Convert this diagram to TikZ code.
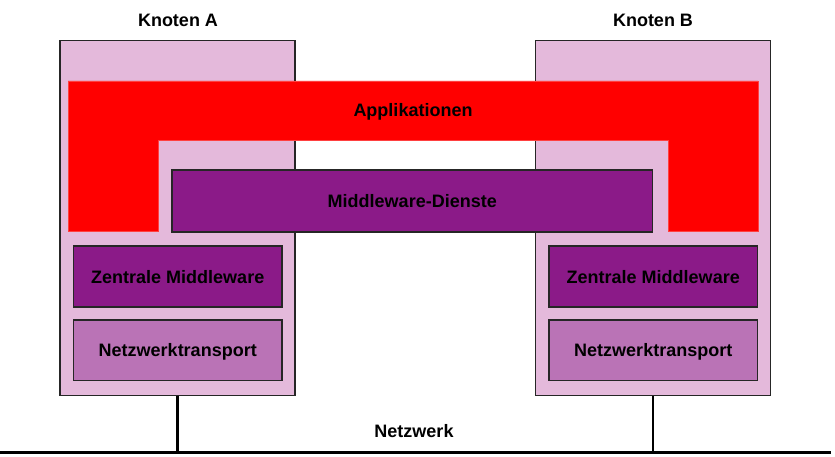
\documentclass[tikz,border=0pt]{standalone}
\usepackage{fontspec}
\setmainfont{Liberation Sans}
\usetikzlibrary{positioning}
\definecolor{knotenpink}{HTML}{E4B9DB}
\definecolor{mwpurple}{HTML}{8B1A88}
\definecolor{ntmauve}{HTML}{BA73B6}
\begin{document}
\begin{tikzpicture}[x=1pt,y=-1pt,font=\fontsize{18}{21}\selectfont\bfseries,node distance=13pt,text depth=0pt,
    box/.style={draw=black!85,line width=1.4pt,inner sep=0pt,outer sep=0pt}]
  \useasboundingbox (0,0) rectangle (835,457);
  \tikzset{knoten/.style={box,fill=knotenpink,anchor=north west,minimum width=235pt,minimum height=355pt},
           zentral/.style={box,fill=mwpurple,minimum width=208.5pt,minimum height=61pt},
           transport/.style={box,fill=ntmauve,minimum width=208.5pt,minimum height=60.5pt}}

  \node[knoten]  (knA) at (60,40.5)  {};
  \node[knoten]  (knB) at (535.5,40.5) {};
  \node          (labA) at (178,20)  {Knoten A};
  \node          (labB) at (653,20)  {Knoten B};

  \fill[red,draw=red!75!white,line width=0.6pt]
    (68,81) -- (758,81) -- (758,231.5) -- (668,231.5) -- (668,140)
    -- (158,140) -- (158,231.5) -- (68,231.5) -- cycle;
  \node          (app) at (413,110)  {Applikationen};

  \node[box,fill=mwpurple,anchor=north west,minimum width=480.5pt,minimum height=62pt]
                 (dienste) at (172,170) {Middleware-Dienste};

  \node[zentral,anchor=north west] (zmA) at (73.5,246) {Zentrale Middleware};
  \node[transport] (ntA) [below=of zmA] {Netzwerktransport};
  \node[zentral,anchor=north west] (zmB) at (549,246) {Zentrale Middleware};
  \node[transport] (ntB) [below=of zmB] {Netzwerktransport};

  \coordinate (netL) at (0,452.5);
  \coordinate (netR) at (831,452.5);
  \node          (netz) at (414,431) {Netzwerk};

  \draw[line width=2.8pt] (netL) -- (netR);
  \draw[line width=2.4pt] (knA.south) -- (knA.south |- netL)
                          (knB.south) -- (knB.south |- netL);
\end{tikzpicture}
\end{document}
